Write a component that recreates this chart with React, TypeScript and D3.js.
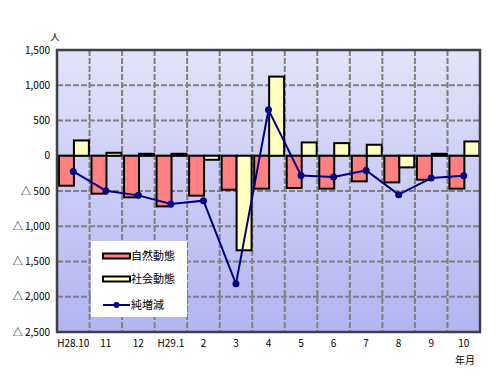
import React from "react";
import * as d3 from "d3";

const categories = ["H28.10", "11", "12", "H29.1", "2", "3", "4", "5", "6", "7", "8", "9", "10"];
const natural = [-425, -538, -590, -718, -566, -482, -467, -458, -467, -363, -378, -340, -467];
const social = [217, 42, 28, 28, -57, -1341, 1123, 189, 179, 156, -165, 28, 203];
const net = [-222, -496, -562, -684, -637, -1817, 652, -279, -302, -208, -552, -316, -283];
const yTicks = [1500, 1000, 500, 0, -500, -1000, -1500, -2000, -2500];
const seriesNames = ["自然動態", "社会動態", "純増減"];

const W = 502, H = 379;
const L = 57, R = 480, T = 50, B = 332;
const FONT = "'Noto Sans CJK JP', 'DejaVu Sans', sans-serif";

function fmt(v: number): string {
  const s = d3.format(",")(Math.abs(v));
  return v < 0 ? "△ " + s : s;
}

export default function App() {
  const x = d3.scaleBand<string>().domain(categories).range([L, R]).padding(0);
  const y = d3.scaleLinear().domain([-2500, 1500]).range([B, T]);
  const bw = x.bandwidth();
  const barW = bw * 0.46;
  const y0 = y(0);
  const line = d3
    .line<number>()
    .x((_, i) => (x(categories[i]) as number) + bw / 2)
    .y((d) => y(d));

  return (
    <svg width={W} height={H} style={{ position: "absolute", left: 0, top: 0 }}>
      <defs>
        <linearGradient id="bg" x1="0" y1="0" x2="0" y2="1">
          <stop offset="0" stopColor="#e3e3fa" />
          <stop offset="1" stopColor="#b3b3f1" />
        </linearGradient>
      </defs>
      <rect x={0} y={0} width={W} height={H} fill="#fff" />
      <rect x={L} y={T} width={R - L} height={B - T} fill="url(#bg)" />
      {/* horizontal grid */}
      {yTicks
        .filter((t) => t !== 1500 && t !== -2500 && t !== 0)
        .map((t) => (
          <line key={"h" + t} x1={L} x2={R} y1={y(t)} y2={y(t)} stroke="#808080" strokeWidth={2} strokeDasharray="6,2" />
        ))}
      {/* vertical grid */}
      {categories.slice(1).map((c) => (
        <line key={"v" + c} x1={x(c)} x2={x(c)} y1={T} y2={B} stroke="#808080" strokeWidth={2} strokeDasharray="6,2" />
      ))}
      <line x1={L} x2={R} y1={y0} y2={y0} stroke="#606060" strokeWidth={2} />
      {/* bars */}
      {categories.map((c, i) => {
        const bx = (x(c) as number) + bw * 0.06;
        const n = natural[i];
        const s = social[i];
        return (
          <g key={"b" + c}>
            <rect x={bx} y={Math.min(y(n), y0)} width={barW} height={Math.abs(y(n) - y0)} fill="#ff8080" stroke="#000" strokeWidth={2} />
            <rect x={bx + barW} y={Math.min(y(s), y0)} width={barW} height={Math.abs(y(s) - y0)} fill="#ffffc0" stroke="#000" strokeWidth={2} />
          </g>
        );
      })}
      {/* line */}
      <path d={line(net) || ""} fill="none" stroke="#000080" strokeWidth={2} />
      {net.map((v, i) => (
        <circle key={"p" + i} cx={(x(categories[i]) as number) + bw / 2} cy={y(v)} r={3.5} fill="#000080" />
      ))}
      {/* frame */}
      <rect x={L} y={T} width={R - L} height={B - T} fill="none" stroke="#404048" strokeWidth={2.5} />
      {/* y labels */}
      {yTicks.map((t) => (
        <text key={"yl" + t} x={50} y={y(t)} dy="0.35em" textAnchor="end" fontSize={10} fontFamily={FONT} fill="#000">
          {fmt(t)}
        </text>
      ))}
      <text x={55} y={37} dy="0.35em" textAnchor="middle" fontSize={9} fontFamily={FONT}>人</text>
      {/* x labels */}
      {categories.map((c) => (
        <text key={"xl" + c} x={(x(c) as number) + bw / 2} y={343} dy="0.35em" textAnchor="middle" fontSize={10} fontFamily={FONT}>
          {c}
        </text>
      ))}
      <text x={465} y={360} dy="0.35em" textAnchor="middle" fontSize={10} fontFamily={FONT}>年月</text>
      {/* legend */}
      <rect x={91} y={241} width={96} height={76} fill="#fff" />
      {[0, 1, 2].map((k) => {
        const ly = [256, 279, 305][k];
        return (
          <g key={"lg" + k}>
            {k < 2 ? (
              <rect x={103} y={ly - 2.5} width={27} height={5} fill={k === 0 ? "#ff8080" : "#ffffc0"} stroke="#000" strokeWidth={2} />
            ) : (
              <g>
                <line x1={103} x2={130} y1={ly} y2={ly} stroke="#000080" strokeWidth={2} />
                <circle cx={116.5} cy={ly} r={3} fill="#000080" />
              </g>
            )}
            <text x={131} y={ly} dy="0.35em" fontSize={11} fontFamily={FONT}>{seriesNames[k]}</text>
          </g>
        );
      })}
    </svg>
  );
}
